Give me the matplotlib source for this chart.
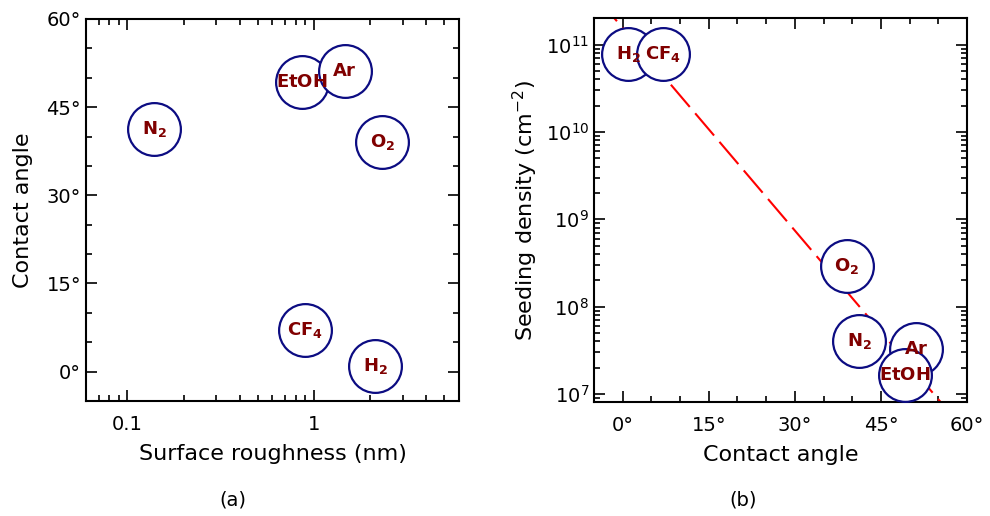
import numpy as np
import matplotlib
matplotlib.use("Agg")
import matplotlib.pyplot as plt
from matplotlib.ticker import FixedLocator, MultipleLocator, LogLocator, NullFormatter, FuncFormatter

plt.rcParams['font.family'] = ['DejaVu Sans']
plt.rcParams['mathtext.fontset'] = 'dejavusans'

# Gas treatments and measured quantities
gases = ['H2', 'CF4', 'O2', 'N2', 'EtOH', 'Ar']
gas_labels = {'H2': r'$\mathbf{H}_{\mathbf{2}}$', 'CF4': r'$\mathbf{CF}_{\mathbf{4}}$',
              'O2': r'$\mathbf{O}_{\mathbf{2}}$', 'N2': r'$\mathbf{N}_{\mathbf{2}}$',
              'EtOH': r'$\mathbf{EtOH}$', 'Ar': r'$\mathbf{Ar}$'}
contact_angle = [1.0, 7.0, 39.0, 41.2, 49.2, 51.1]          # degrees
roughness_nm = [2.13, 0.895, 2.33, 0.139, 0.864, 1.46]       # nm
seeding_density = [7.9e10, 7.9e10, 2.9e8, 4.0e7, 1.65e7, 3.3e7]  # cm^-2

# Exponential trend: log10(density) = fit_intercept + fit_slope * angle
fit_intercept = 11.19
fit_slope = -0.0773

circle_edge = '#0c0c82'
text_red = '#800000'
marker_size = 38

fig = plt.figure(figsize=(9.9, 5.16), dpi=100)
ax1 = fig.add_axes([0.0869, 0.2229, 0.3767, 0.7403])
ax2 = fig.add_axes([0.6, 0.2209, 0.3768, 0.7436])


def style_axes(ax):
    for sp in ax.spines.values():
        sp.set_linewidth(1.5)
    ax.tick_params(which='both', direction='in', top=True, right=True,
                   labelsize=14, width=1.2)
    ax.tick_params(which='major', length=8)
    ax.tick_params(which='minor', length=4)


def draw_points(ax, xs, ys, order):
    for z, g in enumerate(order):
        i = gases.index(g)
        ax.plot(xs[i], ys[i], 'o', ms=marker_size, mfc='white', mec=circle_edge,
                mew=1.6, zorder=3 + z, clip_on=False)
    for i, g in enumerate(gases):
        ax.text(xs[i], ys[i], gas_labels[g], color=text_red, fontsize=13,
                ha='center', va='center', zorder=20)


deg_fmt = FuncFormatter(lambda v, p: f'{v:.0f}\u00b0')

# (a) contact angle vs surface roughness
ax1.set_xscale('log')
ax1.set_xlim(0.06, 6.0)
ax1.set_ylim(-5, 60)
draw_points(ax1, roughness_nm, contact_angle,
            ['H2', 'CF4', 'O2', 'N2', 'EtOH', 'Ar'])
ax1.xaxis.set_major_locator(FixedLocator([0.1, 1]))
ax1.xaxis.set_major_formatter(FuncFormatter(lambda v, p: '0.1' if v < 0.5 else '1'))
ax1.xaxis.set_minor_locator(LogLocator(base=10, subs=np.arange(2, 10)))
ax1.xaxis.set_minor_formatter(NullFormatter())
ax1.yaxis.set_major_locator(MultipleLocator(15))
ax1.yaxis.set_minor_locator(MultipleLocator(5))
ax1.yaxis.set_major_formatter(deg_fmt)
style_axes(ax1)
ax1.tick_params(axis='x', which='major', pad=10)
ax1.set_xlabel('Surface roughness (nm)', fontsize=16, labelpad=7)
ax1.set_ylabel('Contact angle', fontsize=16, labelpad=10)

# (b) seeding density vs contact angle
ax2.set_yscale('log')
ax2.set_xlim(-5, 60)
ax2.set_ylim(8.1e6, 2.0e11)
fit_x = np.linspace(-5, 60, 200)
ax2.plot(fit_x, 10 ** (fit_intercept + fit_slope * fit_x), color='red', lw=1.5,
         dashes=(14, 4), zorder=2)
draw_points(ax2, contact_angle, seeding_density,
            ['H2', 'CF4', 'O2', 'N2', 'Ar', 'EtOH'])
ax2.xaxis.set_major_locator(MultipleLocator(15))
ax2.xaxis.set_minor_locator(MultipleLocator(5))
ax2.xaxis.set_major_formatter(deg_fmt)
ax2.yaxis.set_major_locator(LogLocator(base=10))
ax2.yaxis.set_minor_locator(LogLocator(base=10, subs=np.arange(2, 10)))
ax2.yaxis.set_minor_formatter(NullFormatter())
style_axes(ax2)
ax2.tick_params(axis='x', which='major', pad=10)
ax2.set_xlabel('Contact angle', fontsize=16, labelpad=7)
ax2.set_ylabel(r'Seeding density (cm$^{-2}$)', fontsize=16, labelpad=4)

fig.text(0.235, 0.031, '(a)', fontsize=14, ha='center', va='center')
fig.text(0.751, 0.031, '(b)', fontsize=14, ha='center', va='center')

fig.savefig('out.png', dpi=100)
